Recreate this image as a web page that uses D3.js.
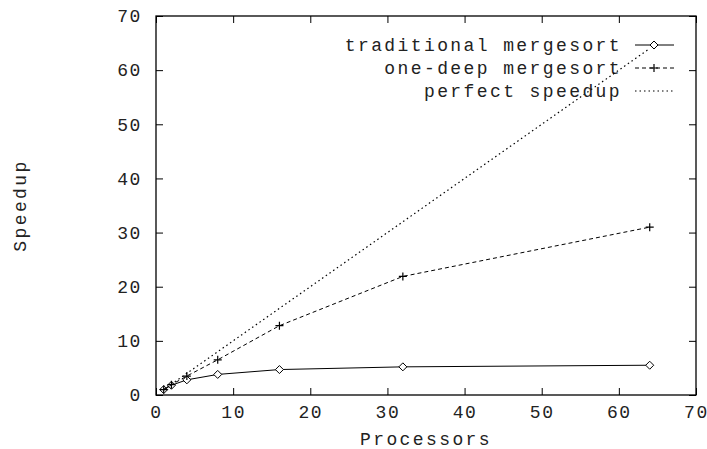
<!DOCTYPE html>
<html>
<head>
<meta charset="utf-8">
<script src="https://cdn.jsdelivr.net/npm/d3@7"></script>
<style>
  body { margin: 0; background: #fff; }
  text { font-family: "Liberation Mono", "DejaVu Sans Mono", monospace; font-size: 18px; letter-spacing: 2.4px; fill: #222; }
</style>
</head>
<body>
<div id="chart"></div>
<script>
// data
var processors = [1, 2, 4, 8, 16, 32, 64];
var traditional = [1, 1.8, 2.8, 3.8, 4.7, 5.2, 5.5];
var oneDeep = [1, 1.9, 3.5, 6.5, 12.8, 21.9, 31.0];
var perfect = [1, 2, 4, 8, 16, 32, 64];
var seriesNames = ['traditional mergesort', 'one-deep mergesort', 'perfect speedup'];
var xTicks = [0, 10, 20, 30, 40, 50, 60, 70];
var yTicks = [0, 10, 20, 30, 40, 50, 60, 70];

var W = 707, H = 449;
var pLeft = 156, pRight = 696, pTop = 16, pBottom = 395;

var svg = d3.select('#chart').append('svg')
    .attr('width', W)
    .attr('height', H);

var x = d3.scaleLinear().domain([0, 70]).range([pLeft, pRight]);
var y = d3.scaleLinear().domain([0, 70]).range([pBottom, pTop]);

// ticks, inward and mirrored like gnuplot
function ticks(axis, pos) {
    var g = svg.append('g').attr('transform', pos).call(axis);
    g.select('.domain').remove();
    g.selectAll('.tick line').attr('stroke', '#000');
    return g;
}
ticks(d3.axisBottom(x).tickValues(xTicks).tickSize(-7).tickPadding(18).tickFormat(d3.format('d')), 'translate(0,' + pBottom + ')')
    .selectAll('text').attr('dy', '0.3em');
ticks(d3.axisTop(x).tickValues(xTicks).tickSize(-7).tickFormat(''), 'translate(0,' + pTop + ')');
ticks(d3.axisLeft(y).tickValues(yTicks).tickSize(-7).tickPadding(14).tickFormat(d3.format('d')), 'translate(' + pLeft + ',0)');
ticks(d3.axisRight(y).tickValues(yTicks).tickSize(-7).tickFormat(''), 'translate(' + pRight + ',0)');

svg.selectAll('.tick text').style('font-size', '18px').style('letter-spacing', '1.6px').attr('fill', '#222');

// frame
svg.append('rect')
    .attr('x', pLeft).attr('y', pTop)
    .attr('width', pRight - pLeft).attr('height', pBottom - pTop)
    .attr('fill', 'none').attr('stroke', '#000').attr('stroke-width', 1.3);

// axis labels
svg.append('text')
    .attr('x', (pLeft + pRight) / 2).attr('y', 445)
    .attr('text-anchor', 'middle')
    .text('Processors');
svg.append('text')
    .attr('transform', 'translate(26,' + ((pTop + pBottom) / 2) + ') rotate(-90)')
    .attr('text-anchor', 'middle')
    .text('Speedup');

var line = d3.line()
    .x(function (d) { return x(d[0]); })
    .y(function (d) { return y(d[1]); });

var series = [
    { name: seriesNames[0], values: traditional, dash: null, width: 1, marker: 'diamond' },
    { name: seriesNames[1], values: oneDeep, dash: '4,3', width: 1, marker: 'plus' },
    { name: seriesNames[2], values: perfect, dash: '1.5,3', width: 1.2, marker: null }
];

function marker(g, type, cx, cy) {
    if (type === 'diamond') {
        g.append('path')
            .attr('d', 'M' + cx + ',' + (cy - 4) + 'L' + (cx + 4) + ',' + cy + 'L' + cx + ',' + (cy + 4) + 'L' + (cx - 4) + ',' + cy + 'Z')
            .attr('fill', '#fff').attr('stroke', '#000').attr('stroke-width', 1);
    } else if (type === 'plus') {
        g.append('path')
            .attr('d', 'M' + (cx - 4) + ',' + cy + 'H' + (cx + 4) + 'M' + cx + ',' + (cy - 4) + 'V' + (cy + 4))
            .attr('stroke', '#000').attr('stroke-width', 1.2);
    }
}

series.forEach(function (s, i) {
    var pts = processors.map(function (p, j) { return [p, s.values[j]]; });
    svg.append('path')
        .datum(pts)
        .attr('d', line)
        .attr('fill', 'none')
        .attr('stroke', '#000')
        .attr('stroke-width', s.width)
        .attr('stroke-dasharray', s.dash);
    var mg = svg.append('g');
    pts.forEach(function (p) { marker(mg, s.marker, x(p[0]), y(p[1])); });

    // legend row
    var ly = 45 + i * 23;
    svg.append('text')
        .attr('x', 622).attr('y', ly).attr('dy', '0.35em')
        .attr('text-anchor', 'end')
        .text(s.name);
    svg.append('line')
        .attr('x1', 635).attr('x2', 674).attr('y1', ly).attr('y2', ly)
        .attr('stroke', '#000').attr('stroke-width', s.width)
        .attr('stroke-dasharray', s.dash);
    marker(svg, s.marker, 654, ly);
});
</script>
</body>
</html>
